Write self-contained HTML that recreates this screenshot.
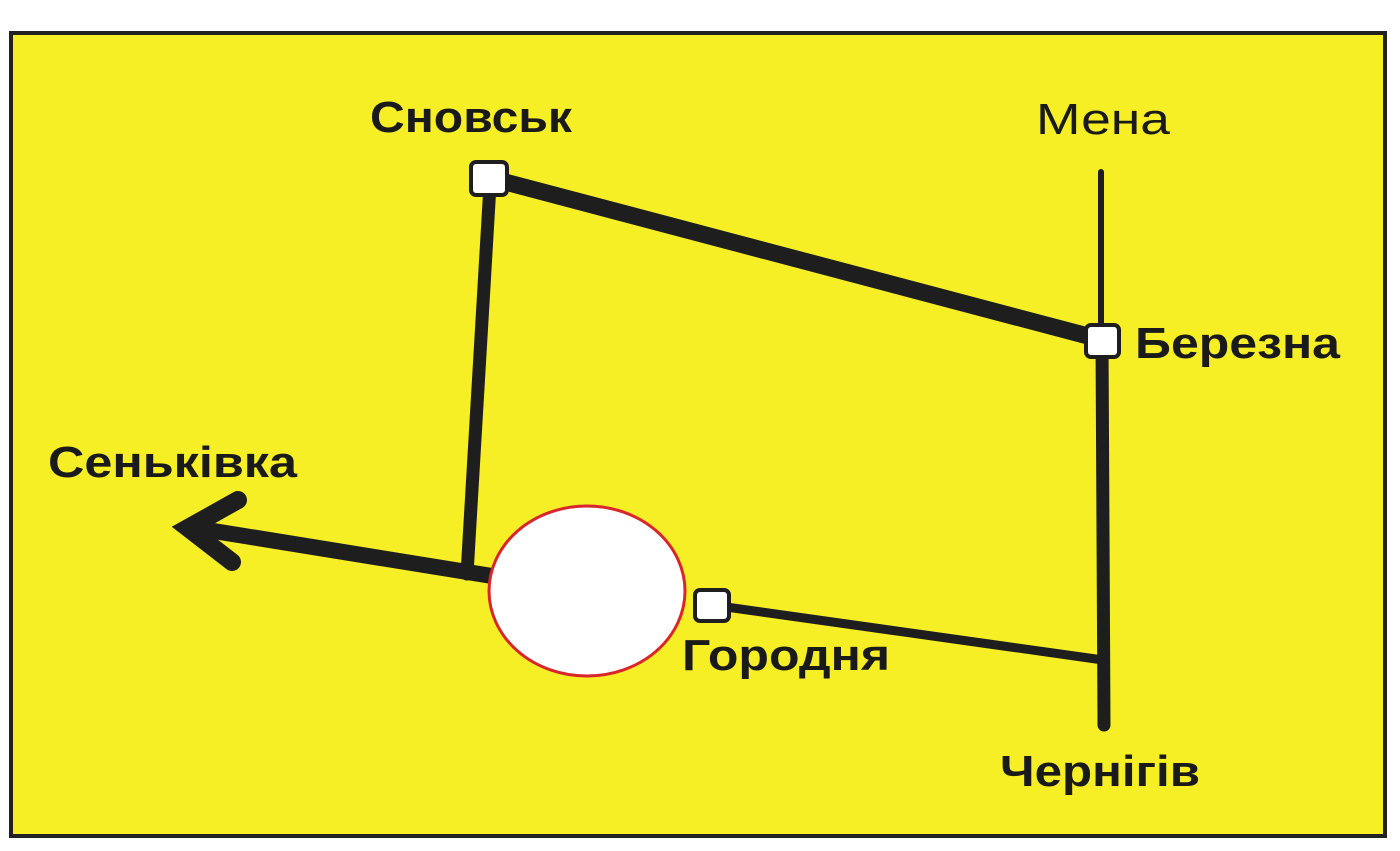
<!DOCTYPE html>
<html><head><meta charset="utf-8"><style>html,body{margin:0;padding:0;background:#fff}svg{display:block}</style></head>
<body>
<svg width="1400" height="851" viewBox="0 0 1400 851" xmlns="http://www.w3.org/2000/svg">
<rect x="11" y="33" width="1374" height="803" fill="#f7ef26" stroke="#222" stroke-width="4"/>
<g stroke="#1e1e1e" stroke-linecap="round" fill="none">
<line x1="490" y1="178" x2="1103" y2="340" stroke-width="17"/>
<line x1="490" y1="185" x2="467" y2="574" stroke-width="13"/>
<line x1="492" y1="576" x2="195" y2="528" stroke-width="16"/>
<polyline points="238,500 188,528 232,562" stroke-width="18" stroke-linejoin="miter"/>
<line x1="712" y1="605" x2="1103" y2="660" stroke-width="9"/>
<line x1="1101" y1="172" x2="1101" y2="340" stroke-width="6"/>
<line x1="1102" y1="340" x2="1104" y2="725" stroke-width="13"/>
</g>
<ellipse cx="587" cy="591" rx="98" ry="85" fill="#fff" stroke="#d8262b" stroke-width="3"/>
<g fill="#fff" stroke="#1e1e1e" stroke-width="4">
<rect x="471" y="162" width="36" height="33" rx="5"/>
<rect x="1086" y="325" width="33" height="32" rx="5"/>
<rect x="695" y="590" width="34" height="31" rx="5"/>
</g>
<g font-family="Liberation Sans, DejaVu Sans, sans-serif" font-size="44" fill="#1a1a1a" lengthAdjust="spacingAndGlyphs">
<text x="370" y="132" font-weight="bold" textLength="202" lengthAdjust="spacingAndGlyphs">Сновськ</text>
<text x="1036" y="134" textLength="134" lengthAdjust="spacingAndGlyphs">Мена</text>
<text x="1135" y="358" font-weight="bold" textLength="205" lengthAdjust="spacingAndGlyphs">Березна</text>
<text x="48" y="477" font-weight="bold" textLength="249" lengthAdjust="spacingAndGlyphs">Сенькiвка</text>
<text x="682" y="670" font-weight="bold" textLength="208" lengthAdjust="spacingAndGlyphs">Городня</text>
<text x="1000" y="786" font-weight="bold" textLength="200" lengthAdjust="spacingAndGlyphs">Чернігів</text>
</g>
</svg>
</body></html>
